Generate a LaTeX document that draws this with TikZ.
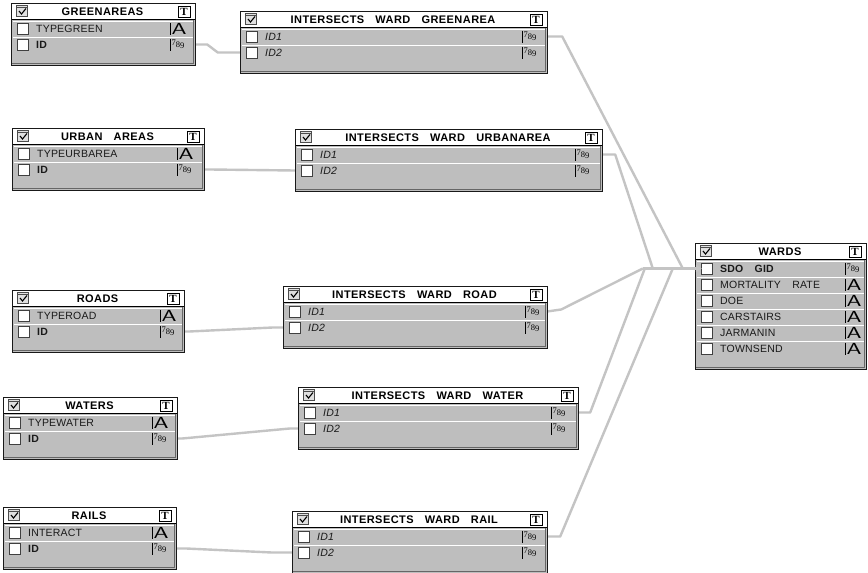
\documentclass[tikz,border=0pt]{standalone}
\usepackage{fontspec}
\usepackage{graphicx}
\setmainfont{Liberation Sans}
\newfontfamily\titlefont[LetterSpace=4,WordSpace=3.2]{Liberation Sans}
\newfontfamily\rowfont[LetterSpace=2,WordSpace=3.6]{Liberation Sans}
\newfontfamily\numfont{Liberation Serif}
\usetikzlibrary{arrows.meta,calc}
\definecolor{tblgray}{HTML}{BEBEBE}
\definecolor{linkgray}{HTML}{C4C4C4}
\definecolor{txtdark}{HTML}{1A1A1A}
\pgfdeclarelayer{bg}
\pgfsetlayers{bg,main}
\tikzset{
  tbltitle/.style={font=\titlefont\bfseries\fontsize{11}{11}\selectfont, inner sep=0, text=black},
  rowlabel/.style={anchor=west, inner sep=0, font=\rowfont\fontsize{10.5}{10.5}\selectfont, text=txtdark},
  rowslot/.style={inner sep=0, minimum height=16pt},
  tbox/.style={draw=black, line width=0.9pt, fill=white, minimum width=12pt, minimum height=11pt, inner sep=0, font=\numfont\bfseries\fontsize{11}{11}\selectfont},
  link/.style={draw=linkgray, line width=2.4pt, line join=round},
  chkbox/.style={fill=white, draw=black!75, line width=0.8pt},
}
\newcommand\symA{\scalebox{1.5}[1]{\sffamily\fontsize{16}{16}\selectfont A}}
\newcommand\symN{{\numfont\fontsize{8.5}{8.5}\selectfont\raisebox{1.8pt}{7}8\raisebox{-0.8pt}{9}}}
% #1 name, #2 x1, #3 y1, #4 x2, #5 sep (unused), #6 rows, #7 title
\newcommand\dbtable[7]{%
  \pgfmathsetmacro\dbbot{#3+17+16*#6+13}%
  \pgfmathsetmacro\dbhead{#3+16.5}%
  \fill[tblgray] (#2,#3) rectangle (#4,\dbbot);
  \fill[white] (#2,#3) rectangle (#4,\dbhead);
  \draw[black, line width=1.2pt] (#2,\dbhead) -- (#4,\dbhead);
  \draw[black!60, line width=0.8pt] (#4-1.5,\dbhead) -- (#4-1.5,\dbbot-1.5) -- (#2+1,\dbbot-1.5);
  \draw[black!90, line width=1pt] (#2,#3) rectangle (#4,\dbbot);
  \fill[black!12] (#2+5,#3+2) rectangle (#2+16,#3+13);
  \draw[black!70, line width=0.7pt] (#2+5,#3+2) rectangle (#2+16,#3+13);
  \draw[black!70, line width=1pt] (#2+5,#3+4.5) -- (#2+16,#3+4.5);
  \draw[black, line width=1.1pt] (#2+8,#3+8) -- (#2+10.5,#3+11) -- (#2+15,#3+5.5);
  \node[tbox] (#1-t) at (#4-11,#3+8.5) {T};
  \node[tbltitle] (#1) at ({(#2+#4-1)/2}, #3+9) {#7};
}
% #1 name, #2 x1, #3 x2, #4 sep, #5 ytop, #6 label, #7 symbol
\newcommand\dbrow[7]{%
  \draw[white, line width=1pt] (#2+2,#5+1) -- (#3-2,#5+1);
  \draw[black, line width=0.9pt] (#4,#5+2.5) -- (#4,#5+15);
  \draw[chkbox] (#2+6,#5+3) rectangle (#2+17,#5+14);
  \node[rowslot, minimum width={#3-#2}] (#1) at ({(#2+#3)/2},#5+8.5) {};
  \node[rowlabel] (#1-l) at (#2+25,#5+8.5) {#6};
  \node[anchor=west, inner sep=0] (#1-s) at (#4+1.5,#5+8.5) {#7};
}
\begin{document}
\begin{tikzpicture}[x=1pt,y=-1pt]
\useasboundingbox (0,0) rectangle (868,573);

% GREENAREAS
\dbtable{g}{11}{3}{195}{170}{2}{GREENAREAS}
\dbrow{g-type}{11}{195}{170}{20}{TYPEGREEN}{\symA}
\dbrow{g-id}{11}{195}{170}{36}{\bfseries ID}{\symN}
% INTERSECTS WARD GREENAREA
\dbtable{ig}{240}{11}{547}{522}{2}{INTERSECTS WARD GREENAREA}
\dbrow{ig-id1}{240}{547}{522}{28}{\itshape ID1}{\symN}
\dbrow{ig-id2}{240}{547}{522}{44}{\itshape ID2}{\symN}
% URBAN AREAS
\dbtable{u}{12}{128}{204}{177}{2}{URBAN AREAS}
\dbrow{u-type}{12}{204}{177}{145}{TYPEURBAREA}{\symA}
\dbrow{u-id}{12}{204}{177}{161}{\bfseries ID}{\symN}
% INTERSECTS WARD URBANAREA
\dbtable{iu}{295}{129}{602}{575}{2}{INTERSECTS WARD URBANAREA}
\dbrow{iu-id1}{295}{602}{575}{146}{\itshape ID1}{\symN}
\dbrow{iu-id2}{295}{602}{575}{162}{\itshape ID2}{\symN}
% ROADS
\dbtable{r}{12}{290}{184}{160}{2}{ROADS}
\dbrow{r-type}{12}{184}{160}{307}{TYPEROAD}{\symA}
\dbrow{r-id}{12}{184}{160}{323}{\bfseries ID}{\symN}
% INTERSECTS WARD ROAD
\dbtable{ir}{283}{286}{547}{525}{2}{INTERSECTS WARD ROAD}
\dbrow{ir-id1}{283}{547}{525}{303}{\itshape ID1}{\symN}
\dbrow{ir-id2}{283}{547}{525}{319}{\itshape ID2}{\symN}
% WATERS
\dbtable{wa}{3}{397}{177}{152}{2}{WATERS}
\dbrow{wa-type}{3}{177}{152}{414}{TYPEWATER}{\symA}
\dbrow{wa-id}{3}{177}{152}{430}{\bfseries ID}{\symN}
% INTERSECTS WARD WATER
\dbtable{iw}{298}{387}{578}{551}{2}{INTERSECTS WARD WATER}
\dbrow{iw-id1}{298}{578}{551}{404}{\itshape ID1}{\symN}
\dbrow{iw-id2}{298}{578}{551}{420}{\itshape ID2}{\symN}
% RAILS
\dbtable{ra}{3}{507}{176}{152}{2}{RAILS}
\dbrow{ra-type}{3}{176}{152}{524}{INTERACT}{\symA}
\dbrow{ra-id}{3}{176}{152}{540}{\bfseries ID}{\symN}
% INTERSECTS WARD RAIL
\dbtable{ia}{292}{511}{547}{522}{2}{INTERSECTS WARD RAIL}
\dbrow{ia-id1}{292}{547}{522}{528}{\itshape ID1}{\symN}
\dbrow{ia-id2}{292}{547}{522}{544}{\itshape ID2}{\symN}
% WARDS
\dbtable{w}{695}{243}{866}{845}{6}{WARDS}
\dbrow{w-sdo}{695}{866}{845}{260}{\bfseries SDO GID}{\symN}
\dbrow{w-mort}{695}{866}{845}{276}{MORTALITY RATE}{\symA}
\dbrow{w-doe}{695}{866}{845}{292}{DOE}{\symA}
\dbrow{w-car}{695}{866}{845}{308}{CARSTAIRS}{\symA}
\dbrow{w-jar}{695}{866}{845}{324}{JARMANIN}{\symA}
\dbrow{w-town}{695}{866}{845}{340}{TOWNSEND}{\symA}

\begin{pgfonlayer}{bg}
\fill[white] (0,0) rectangle (868,573);
\draw[link] (g-id.east) -- ++(12,0) -- ($(ig-id2.west)+(-22,0)$) -- (ig-id2.west);
\draw[link] (u-id.east) -- ++(6,0) -- (iu-id2.west);
\draw[link] (r-id.east) -- ++(5,0) -- ($(ir-id2.west)+(-10,0)$) -- (ir-id2.west);
\draw[link] (wa-id.east) -- ++(5,0) -- ($(iw-id2.west)+(-8,0)$) -- (iw-id2.west);
\draw[link] (ra-id.east) -- ++(10,0) -- ($(ia-id2.west)+(-20,0)$) -- (ia-id2.west);
\draw[link] (ig-id1.east) -- ++(15,0) -- ($(w-sdo.west)+(-12,0)$);
\draw[link] (iu-id1.east) -- ++(13,0) -- ($(w-sdo.west)+(-42,0)$);
\draw[link] (ir-id1.east) -- ++(14,-2) -- ($(w-sdo.west)+(-52,0)$);
\draw[link] (iw-id1.east) -- ++(12,0) -- ($(w-sdo.west)+(-50,0)$);
\draw[link] (ia-id1.east) -- ++(13,0) -- ($(w-sdo.west)+(-22,0)$);
\draw[link] ($(w-sdo.west)+(-52,0)$) -- (w-sdo.west);
\end{pgfonlayer}
\draw[link, -{Triangle[length=6pt,width=7pt]}] ($(w-sdo.west)+(-3,0)$) -- ($(w-sdo.west)+(7,0)$);
\end{tikzpicture}
\end{document}
